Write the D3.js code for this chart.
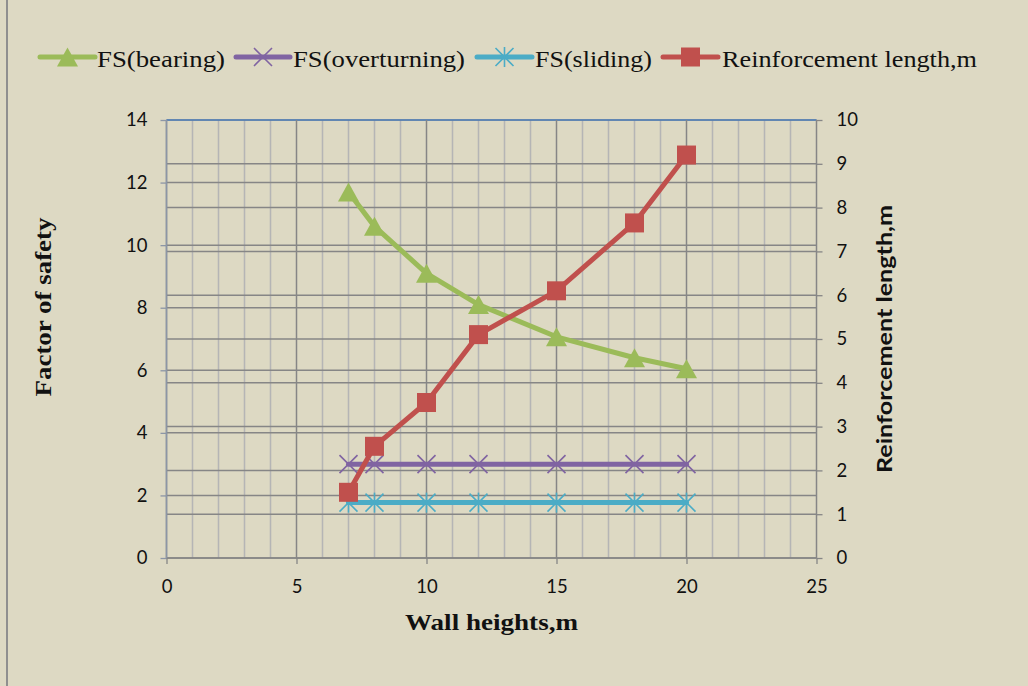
<!DOCTYPE html>
<html>
<head>
<meta charset="utf-8">
<script src="https://cdn.jsdelivr.net/npm/d3@7/dist/d3.min.js"></script>
<style>
  html, body { margin: 0; padding: 0; background: #ddd9c3; }
  svg { display: block; }
</style>
</head>
<body>
<svg id="chart" width="1028" height="686"></svg>
<script>
// Wall heights (m) and the results computed for each height
const wallHeights = [7, 8, 10, 12, 15, 18, 20];
const fsBearing = [11.7, 10.6, 9.1, 8.1, 7.07, 6.4, 6.05];
const fsOverturning = [3, 3, 3, 3, 3, 3, 3];
const fsSliding = [1.77, 1.77, 1.77, 1.77, 1.77, 1.77, 1.77];
const reinforcementLength = [1.5, 2.55, 3.55, 5.1, 6.1, 7.65, 9.2];

// Axis ticks
const xTicks = [0, 5, 10, 15, 20, 25];
const xMinorTicks = d3.range(0, 26, 1);
const leftTicks = [0, 2, 4, 6, 8, 10, 12, 14];
const rightTicks = [0, 1, 2, 3, 4, 5, 6, 7, 8, 9, 10];

const svg = d3.select("#chart");
const W = 1028, H = 686;
const plot = { left: 166.5, right: 816.5, top: 120, bottom: 558 };

const x = d3.scaleLinear().domain([0, 25]).range([plot.left, plot.right]);
const yL = d3.scaleLinear().domain([0, 14]).range([plot.bottom, plot.top]);
const yR = d3.scaleLinear().domain([0, 10]).range([plot.bottom, plot.top]);

const tickFont = "Lato, 'Open Sans', sans-serif";
const serif = "'Liberation Serif', 'Times New Roman', serif";

// background and outer frame edge
svg.append("rect").attr("width", W).attr("height", H).attr("fill", "#ddd9c3");
svg.append("line").attr("x1", 7).attr("x2", 7).attr("y1", 0).attr("y2", H)
  .attr("stroke", "#8f8f8f").attr("stroke-width", 2);

// grid
const grid = svg.append("g");
grid.selectAll("line.vminor").data(xMinorTicks.filter(d => d % 5 !== 0)).join("line")
  .attr("x1", d => x(d)).attr("x2", d => x(d))
  .attr("y1", plot.top).attr("y2", plot.bottom)
  .attr("stroke", "#b5b5b5").attr("stroke-width", 1.5);
grid.selectAll("line.hright").data(rightTicks).join("line")
  .attr("x1", plot.left).attr("x2", plot.right)
  .attr("y1", d => yR(d)).attr("y2", d => yR(d))
  .attr("stroke", "#868686").attr("stroke-width", 1.5);
grid.selectAll("line.hleft").data(leftTicks).join("line")
  .attr("x1", plot.left).attr("x2", plot.right)
  .attr("y1", d => yL(d)).attr("y2", d => yL(d))
  .attr("stroke", d => d === 14 ? "#4f81bd" : "#868686").attr("stroke-width", 1.5);
grid.selectAll("line.vmajor").data(xTicks).join("line")
  .attr("x1", d => x(d)).attr("x2", d => x(d))
  .attr("y1", plot.top).attr("y2", plot.bottom)
  .attr("stroke", "#868686").attr("stroke-width", 1.5);

// axes
function styleAxis(g, lineColor) {
  g.select(".domain").remove();
  g.selectAll(".tick line").attr("stroke", lineColor).attr("stroke-width", 1.3);
  g.selectAll(".tick text").attr("fill", "#111").attr("font-family", tickFont)
    .attr("font-size", 18.5);
}
const gLeft = svg.append("g").attr("transform", `translate(${plot.left},0)`)
  .call(d3.axisLeft(yL).tickValues(leftTicks).tickSize(6).tickPadding(13));
styleAxis(gLeft, "#8c96a6");
svg.append("line").attr("x1", plot.left).attr("x2", plot.left)
  .attr("y1", plot.top).attr("y2", plot.bottom)
  .attr("stroke", "#8c96a6").attr("stroke-width", 1.5);

const gRight = svg.append("g").attr("transform", `translate(${plot.right},0)`)
  .call(d3.axisRight(yR).tickValues(rightTicks).tickSize(6).tickPadding(14));
styleAxis(gRight, "#868686");

const gBottom = svg.append("g").attr("transform", `translate(0,${plot.bottom})`)
  .call(d3.axisBottom(x).tickValues(xTicks).tickSize(6).tickPadding(16));
styleAxis(gBottom, "#868686");

// axis titles
svg.append("text")
  .attr("transform", "translate(51,307) rotate(-90)")
  .attr("text-anchor", "middle").attr("font-family", serif).attr("font-weight", "bold")
  .attr("font-size", 24).attr("textLength", 179).attr("lengthAdjust", "spacingAndGlyphs")
  .attr("fill", "#111").text("Factor of safety");
svg.append("text")
  .attr("x", 491.5).attr("y", 630)
  .attr("text-anchor", "middle").attr("font-family", serif).attr("font-weight", "bold")
  .attr("font-size", 24).attr("textLength", 173).attr("lengthAdjust", "spacingAndGlyphs")
  .attr("fill", "#111").text("Wall heights,m");
svg.append("text")
  .attr("transform", "translate(892,339) rotate(-90)")
  .attr("text-anchor", "middle").attr("font-family", tickFont).attr("font-weight", "bold")
  .attr("font-size", 21).attr("textLength", 268).attr("lengthAdjust", "spacingAndGlyphs")
  .attr("fill", "#111").text("Reinforcement length,m");

// marker shapes
function drawMarker(g, type, color) {
  if (type === "triangle") {
    g.append("path").attr("d", "M0,-9.5L10.5,9.5L-10.5,9.5Z").attr("fill", color);
  } else if (type === "cross" || type === "star") {
    g.append("path").attr("d", "M-9,-9L9,9M-9,9L9,-9").attr("stroke", color)
      .attr("stroke-width", 1.6).attr("fill", "none");
    if (type === "star") {
      g.append("path").attr("d", "M0,-10V10").attr("stroke", color)
        .attr("stroke-width", 1.6);
    }
  } else if (type === "square") {
    g.append("rect").attr("x", -9.5).attr("y", -9.5).attr("width", 19).attr("height", 19)
      .attr("fill", color);
  }
}

const series = [
  { name: "FS(bearing)", values: fsBearing, y: yL, color: "#9bbb59", marker: "triangle",
    legend: { x0: 40, x1: 95, tx: 97, tw: 128 } },
  { name: "FS(overturning)", values: fsOverturning, y: yL, color: "#8064a2", marker: "cross",
    legend: { x0: 236, x1: 290, tx: 293, tw: 172 } },
  { name: "FS(sliding)", values: fsSliding, y: yL, color: "#4bacc6", marker: "star",
    legend: { x0: 477, x1: 532, tx: 535, tw: 117 } },
  { name: "Reinforcement length,m", values: reinforcementLength, y: yR, color: "#c0504d", marker: "square",
    legend: { x0: 663, x1: 718, tx: 722, tw: 255 } }
];

// series lines and markers
series.forEach(s => {
  const pts = wallHeights.map((h, i) => [h, s.values[i]]);
  const line = d3.line().x(d => x(d[0])).y(d => s.y(d[1]));
  const g = svg.append("g");
  g.append("path").attr("d", line(pts)).attr("fill", "none")
    .attr("stroke", s.color).attr("stroke-width", 5)
    .attr("stroke-linejoin", "round").attr("stroke-linecap", "round");
  pts.forEach(p => {
    const m = g.append("g").attr("transform", `translate(${x(p[0])},${s.y(p[1])})`);
    drawMarker(m, s.marker, s.color);
  });
});

// legend
const legendY = 57;
series.forEach(s => {
  const L = s.legend;
  const g = svg.append("g");
  g.append("line").attr("x1", L.x0).attr("x2", L.x1).attr("y1", legendY).attr("y2", legendY)
    .attr("stroke", s.color).attr("stroke-width", 5).attr("stroke-linecap", "round");
  const m = g.append("g").attr("transform", `translate(${(L.x0 + L.x1) / 2},${legendY})`);
  drawMarker(m, s.marker, s.color);
  g.append("text").attr("x", L.tx).attr("y", 66.5)
    .attr("font-family", serif).attr("font-size", 23)
    .attr("textLength", L.tw).attr("lengthAdjust", "spacingAndGlyphs")
    .attr("fill", "#111").text(s.name);
});
</script>
</body>
</html>
